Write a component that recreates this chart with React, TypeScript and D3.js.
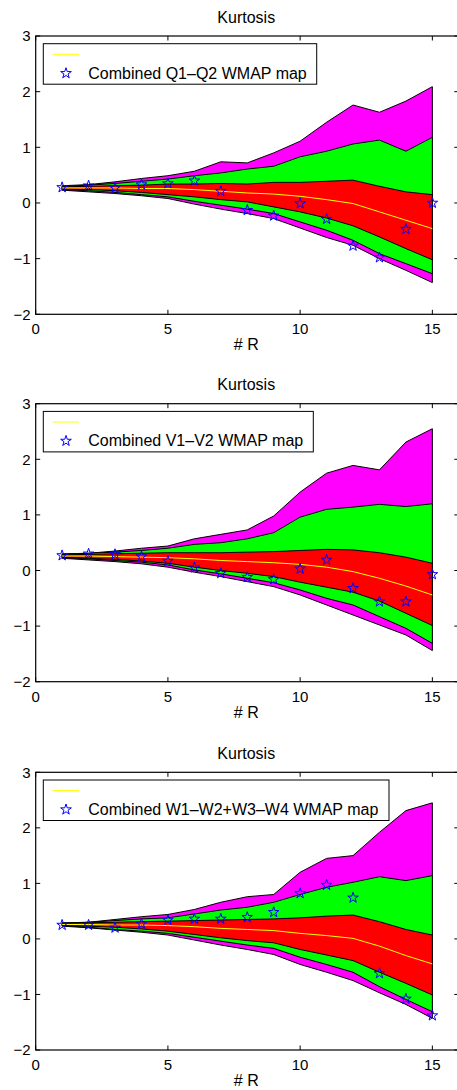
import React from "react";
import * as d3 from "d3";

const rValues = [1, 2, 3, 4, 5, 6, 7, 8, 9, 10, 11, 12, 13, 14, 15];
const xTicks = [0, 5, 10, 15];
const yTicks = [-2, -1, 0, 1, 2, 3];
const titles = ["Kurtosis", "Kurtosis", "Kurtosis"];
const legendLabels = [
  "Combined Q1\u2013Q2 WMAP map",
  "Combined V1\u2013V2 WMAP map",
  "Combined W1\u2013W2+W3\u2013W4 WMAP map",
];

// Panel 1 (Q1-Q2)
const qUpper2 = [0.31, 0.33, 0.38, 0.44, 0.49, 0.57, 0.74, 0.72, 0.9, 1.11, 1.45, 1.76, 1.63, 1.83, 2.09];
const qUpper1 = [0.3, 0.32, 0.35, 0.39, 0.43, 0.49, 0.54, 0.61, 0.66, 0.83, 0.93, 1.06, 1.13, 0.93, 1.18];
const qUpperR = [0.29, 0.3, 0.31, 0.32, 0.34, 0.34, 0.35, 0.34, 0.37, 0.37, 0.39, 0.41, 0.3, 0.2, 0.15];
const qMedian = [0.27, 0.27, 0.27, 0.26, 0.26, 0.24, 0.21, 0.18, 0.16, 0.12, 0.06, -0.01, -0.16, -0.31, -0.46];
const qLowerR = [0.25, 0.24, 0.22, 0.19, 0.15, 0.11, 0.06, 0.02, -0.07, -0.16, -0.27, -0.41, -0.61, -0.82, -1.02];
const qLower1 = [0.24, 0.22, 0.19, 0.15, 0.11, 0.03, -0.04, -0.11, -0.19, -0.34, -0.49, -0.67, -0.91, -1.09, -1.27];
const qLower2 = [0.23, 0.2, 0.17, 0.13, 0.08, -0.02, -0.11, -0.19, -0.28, -0.45, -0.62, -0.76, -1.0, -1.21, -1.43];
const qStars = [0.28, 0.31, 0.27, 0.33, 0.35, 0.4, 0.21, -0.13, -0.23, -0.01, -0.29, -0.77, -0.98, -0.47, 0.0];

// Panel 2 (V1-V2)
const vUpper2 = [0.3, 0.31, 0.35, 0.4, 0.44, 0.57, 0.65, 0.73, 0.98, 1.41, 1.75, 1.89, 1.81, 2.31, 2.55];
const vUpper1 = [0.29, 0.31, 0.33, 0.36, 0.4, 0.47, 0.5, 0.57, 0.68, 0.96, 1.1, 1.14, 1.19, 1.15, 1.2];
const vUpperR = [0.28, 0.29, 0.3, 0.31, 0.32, 0.32, 0.32, 0.33, 0.34, 0.36, 0.38, 0.37, 0.32, 0.24, 0.13];
const vMedian = [0.26, 0.26, 0.25, 0.24, 0.23, 0.21, 0.18, 0.16, 0.14, 0.11, 0.06, -0.02, -0.14, -0.28, -0.44];
const vLowerR = [0.24, 0.22, 0.2, 0.17, 0.13, 0.06, 0.0, -0.05, -0.11, -0.21, -0.3, -0.39, -0.55, -0.77, -0.99];
const vLower1 = [0.23, 0.21, 0.18, 0.15, 0.1, 0.01, -0.06, -0.14, -0.22, -0.35, -0.5, -0.62, -0.83, -1.04, -1.31];
const vLower2 = [0.22, 0.19, 0.16, 0.12, 0.06, -0.03, -0.11, -0.2, -0.29, -0.44, -0.62, -0.8, -0.98, -1.16, -1.44];
const vStars = [0.27, 0.3, 0.29, 0.25, 0.17, 0.05, -0.05, -0.12, -0.16, 0.03, 0.19, -0.32, -0.56, -0.56, -0.07];

// Panel 3 (W1-W2+W3-W4)
const wUpper2 = [0.29, 0.3, 0.35, 0.4, 0.44, 0.53, 0.66, 0.76, 0.8, 1.2, 1.45, 1.5, 1.92, 2.31, 2.45];
const wUpper1 = [0.28, 0.3, 0.33, 0.36, 0.38, 0.45, 0.52, 0.57, 0.66, 0.8, 0.93, 1.02, 1.12, 1.05, 1.14];
const wUpperR = [0.28, 0.29, 0.3, 0.31, 0.32, 0.33, 0.34, 0.35, 0.36, 0.38, 0.41, 0.43, 0.31, 0.17, 0.07];
const wMedian = [0.26, 0.26, 0.25, 0.25, 0.24, 0.22, 0.19, 0.17, 0.15, 0.1, 0.06, 0.01, -0.13, -0.3, -0.45];
const wLowerR = [0.24, 0.23, 0.21, 0.18, 0.14, 0.08, 0.02, -0.03, -0.07, -0.19, -0.29, -0.39, -0.6, -0.8, -1.01];
const wLower1 = [0.24, 0.21, 0.17, 0.14, 0.1, 0.03, -0.04, -0.11, -0.17, -0.33, -0.46, -0.6, -0.86, -1.09, -1.31];
const wLower2 = [0.23, 0.2, 0.16, 0.12, 0.07, -0.02, -0.11, -0.19, -0.28, -0.46, -0.6, -0.75, -0.97, -1.18, -1.43];
const wStars = [0.25, 0.25, 0.2, 0.27, 0.34, 0.36, 0.36, 0.39, 0.48, 0.82, 0.97, 0.74, -0.62, -1.08, -1.38];

const panelsData = [
  { u2: qUpper2, u1: qUpper1, ur: qUpperR, med: qMedian, lr: qLowerR, l1: qLower1, l2: qLower2, stars: qStars },
  { u2: vUpper2, u1: vUpper1, ur: vUpperR, med: vMedian, lr: vLowerR, l1: vLower1, l2: vLower2, stars: vStars },
  { u2: wUpper2, u1: wUpper1, ur: wUpperR, med: wMedian, lr: wLowerR, l1: wLower1, l2: wLower2, stars: wStars },
];

// layout
const W = 457;
const H = 1090;
const LEFT = 35.7;
const RIGHT = 458.8;
const TOPS = [36, 403.7, 772.3];
const BOTTOMS = [314.3, 681.7, 1050];
const LEGEND_W = [273.4, 270, 345.7];
const FONT = "'Liberation Sans', Arial, Helvetica, sans-serif";

function starPath(cx: number, cy: number, R: number) {
  const r = R * 0.382;
  const pts: [number, number][] = [];
  for (let i = 0; i < 10; i++) {
    const a = -Math.PI / 2 + (i * Math.PI) / 5;
    const rad = i % 2 === 0 ? R : r;
    pts.push([cx + rad * Math.cos(a), cy + rad * Math.sin(a)]);
  }
  return "M" + pts.map((p) => p[0].toFixed(2) + "," + p[1].toFixed(2)).join("L") + "Z";
}

function Panel({ idx }: { idx: number }) {
  const d = panelsData[idx];
  const top = TOPS[idx];
  const bottom = BOTTOMS[idx];
  const x = d3.scaleLinear().domain([0, 16]).range([LEFT, RIGHT]);
  const y = d3.scaleLinear().domain([-2, 3]).range([bottom, top]);

  const band = (lo: number[], hi: number[]) =>
    d3
      .area<number>()
      .x((_, i) => x(rValues[i]))
      .y0((_, i) => y(lo[i]))
      .y1((_, i) => y(hi[i]))(rValues) || "";
  const medLine =
    d3
      .line<number>()
      .x((_, i) => x(rValues[i]))
      .y((_, i) => y(d.med[i]))(rValues) || "";

  const tickLen = 4.5;
  const lgTop = top + 7.7;
  const lgLeft = 43.3;
  const lgH = 40.5;

  return (
    <g>
      <text x={(LEFT + RIGHT) / 2 - 1} y={top - 13.5} fontSize={16} textAnchor="middle" fontFamily={FONT}>
        {titles[idx]}
      </text>
      <rect x={LEFT} y={top} width={RIGHT - LEFT} height={bottom - top} fill="white" />
      <path d={band(d.l2, d.u2)} fill="#ff00ff" stroke="black" strokeWidth={1} />
      <path d={band(d.l1, d.u1)} fill="#00ff00" stroke="black" strokeWidth={1} />
      <path d={band(d.lr, d.ur)} fill="#ff0000" stroke="black" strokeWidth={1} />
      <path d={medLine} fill="none" stroke="#ffff00" strokeWidth={1} />
      {d.stars.map((v, i) => (
        <path key={i} d={starPath(x(rValues[i]), y(v), 5.6)} fill="none" stroke="#0000ff" strokeWidth={1} />
      ))}
      {/* axes box */}
      <rect x={LEFT} y={top} width={RIGHT - LEFT} height={bottom - top} fill="none" stroke="black" strokeWidth={1.2} />
      {xTicks.map((t) => (
        <g key={"xt" + t}>
          <line x1={x(t)} x2={x(t)} y1={bottom} y2={bottom - tickLen} stroke="black" strokeWidth={1} />
          <line x1={x(t)} x2={x(t)} y1={top} y2={top + tickLen} stroke="black" strokeWidth={1} />
          <text x={x(t)} y={bottom + 20} fontSize={15} textAnchor="middle" fontFamily={FONT}>
            {t}
          </text>
        </g>
      ))}
      {yTicks.map((t) => (
        <g key={"yt" + t}>
          <line x1={LEFT} x2={LEFT + tickLen} y1={y(t)} y2={y(t)} stroke="black" strokeWidth={1} />
          <line x1={RIGHT} x2={RIGHT - tickLen} y1={y(t)} y2={y(t)} stroke="black" strokeWidth={1} />
          <text x={30.5} y={y(t) + 5.3} fontSize={15} textAnchor="end" fontFamily={FONT}>
            {t < 0 ? "\u2212" + Math.abs(t) : String(t)}
          </text>
        </g>
      ))}
      <text x={(LEFT + RIGHT) / 2 - 1} y={bottom + 36} fontSize={16} textAnchor="middle" fontFamily={FONT}>
        # R
      </text>
      {/* legend */}
      <rect x={lgLeft} y={lgTop} width={LEGEND_W[idx]} height={lgH} fill="white" stroke="black" strokeWidth={1} />
      <line x1={52.7} x2={79} y1={lgTop + 10.6} y2={lgTop + 10.6} stroke="#ffff00" strokeWidth={1} />
      <path d={starPath(66, lgTop + 29.6, 5.6)} fill="none" stroke="#0000ff" strokeWidth={1} />
      <text x={88.3} y={lgTop + 35} fontSize={16} fontFamily={FONT}>
        {legendLabels[idx]}
      </text>
    </g>
  );
}

export default function App() {
  return (
    <svg
      width={W}
      height={H}
      viewBox={`0 0 ${W} ${H}`}
      style={{ position: "absolute", left: 0, top: 0, background: "white" }}
    >
      <rect x={0} y={0} width={W} height={H} fill="white" />
      {[0, 1, 2].map((i) => (
        <Panel key={i} idx={i} />
      ))}
    </svg>
  );
}
